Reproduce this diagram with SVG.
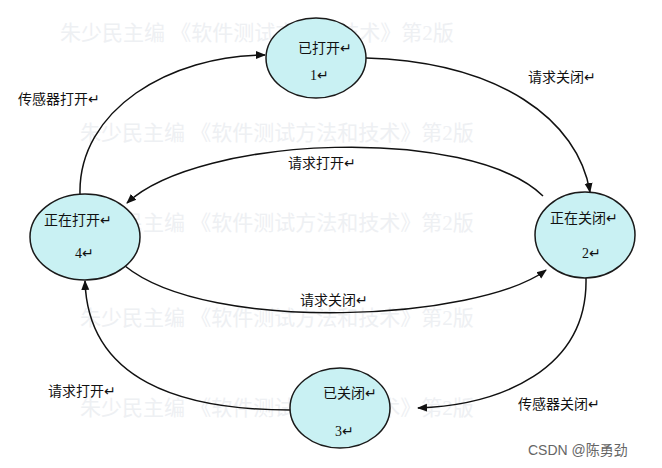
<svg xmlns="http://www.w3.org/2000/svg" width="662" height="468" viewBox="0 0 662 468">
<style>
.n{fill:#c9f1f3;stroke:#1a1a1a;stroke-width:1.5}
.t{font-family:"Liberation Sans","Noto Sans CJK SC",sans-serif;font-size:14px;fill:#111}
.num{font-family:"Liberation Serif","Noto Sans CJK SC",serif;font-size:14px;fill:#111}
.w{font-family:"Liberation Serif","Noto Sans CJK SC",serif;font-size:21px;fill:#eef0f3}
.c{fill:none;stroke:#111;stroke-width:1.5;marker-end:url(#a)}
</style>
<defs><marker id="a" markerWidth="10" markerHeight="10" refX="9" refY="5" orient="auto" markerUnits="userSpaceOnUse"><path d="M0,1 L10,5 L0,9 Z" fill="#111"/></marker></defs>
<rect width="662" height="468" fill="#fff"/>
<g id="watermark">
<text class="w" x="60" y="40">朱少民主编 《软件测试方法和技术》第2版</text>
<text class="w" x="80" y="140">朱少民主编 《软件测试方法和技术》第2版</text>
<text class="w" x="80" y="230">朱少民主编 《软件测试方法和技术》第2版</text>
<text class="w" x="80" y="325">朱少民主编 《软件测试方法和技术》第2版</text>
<text class="w" x="80" y="415">朱少民主编 《软件测试方法和技术》第2版</text>
</g>
<g id="connectors">
<path class="c" d="M80,194 C78,110 170,55 265,55"/>
<path class="c" d="M366,58 C500,62 578,120 590,192"/>
<path class="c" d="M543,196 C470,125 200,135 127,203"/>
<path class="c" d="M125,266 C210,335 480,320 546,270"/>
<path class="c" d="M586,278 C588,370 500,405 418,408"/>
<path class="c" d="M290,410 C180,410 88,380 85,281"/>
</g>
<g id="labels">
<text class="t" x="18" y="104">传感器打开↵</text>
<text class="t" x="528" y="82">请求关闭↵</text>
<text class="t" x="288" y="168">请求打开↵</text>
<text class="t" x="300" y="305">请求关闭↵</text>
<text class="t" x="48" y="396">请求打开↵</text>
<text class="t" x="518" y="409">传感器关闭↵</text>
</g>
<g id="n1"><ellipse class="n" cx="316" cy="58" rx="50" ry="40"/><text class="t" x="298" y="53">已打开↵</text><text class="num" x="310" y="80">1↵</text></g>
<g id="n2"><ellipse class="n" cx="585" cy="235" rx="50" ry="43"/><text class="t" x="550" y="223">正在关闭↵</text><text class="num" x="582" y="258">2↵</text></g>
<g id="n4"><ellipse class="n" cx="85" cy="237" rx="55" ry="43"/><text class="t" x="44" y="225">正在打开↵</text><text class="num" x="75" y="258">4↵</text></g>
<g id="n3"><ellipse class="n" cx="340" cy="408" rx="50" ry="40"/><text class="t" x="323" y="398">已关闭↵</text><text class="num" x="335" y="436">3↵</text></g>
<text x="528" y="455" style="font-family:'Liberation Sans','Noto Sans CJK SC',sans-serif;font-size:14px;fill:#666">CSDN @陈勇劲</text>
</svg>
